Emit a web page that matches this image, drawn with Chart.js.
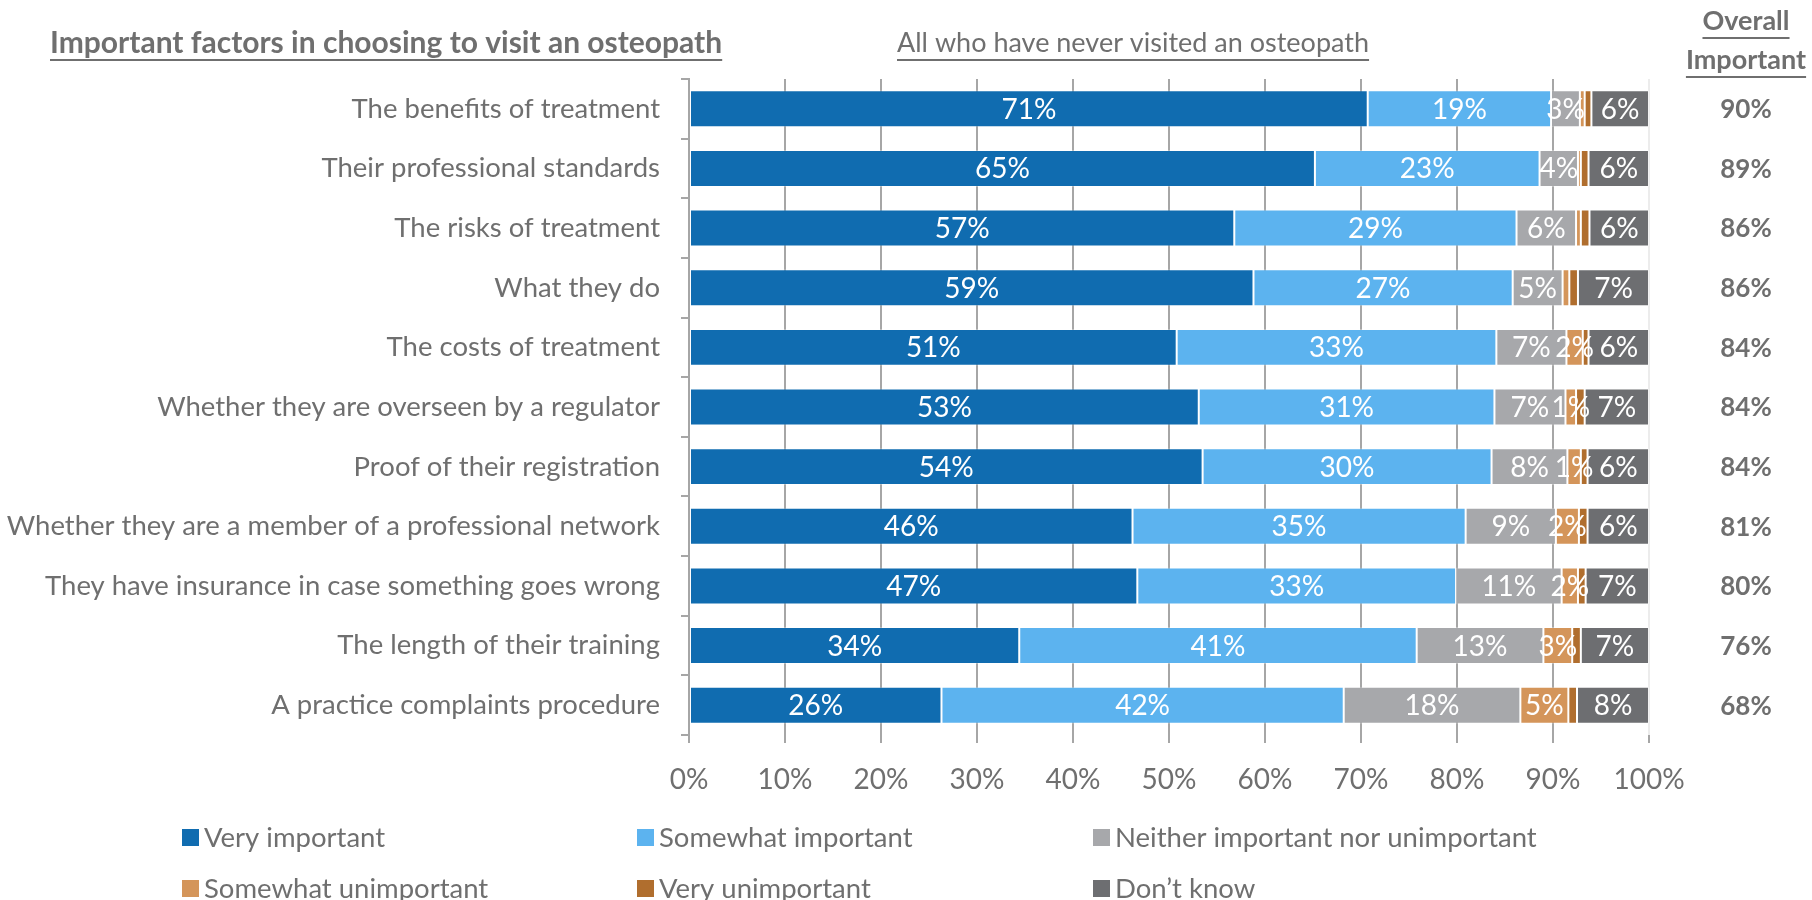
<!DOCTYPE html>
<html>
<head>
<meta charset="utf-8">
<script src="https://cdn.jsdelivr.net/npm/chart.js@4.4.1/dist/chart.umd.min.js"></script>
<style>
html,body{margin:0;padding:0;background:#ffffff;overflow:hidden}
#wrap{width:1812px;height:900px;position:relative}
</style>
</head>
<body>
<div id="wrap"><canvas id="c" width="1812" height="900"></canvas></div>
<script>
const categories = [
  "The benefits of treatment",
  "Their professional standards",
  "The risks of treatment",
  "What they do",
  "The costs of treatment",
  "Whether they are overseen by a regulator",
  "Proof of their registration",
  "Whether they are a member of a professional network",
  "They have insurance in case something goes wrong",
  "The length of their training",
  "A practice complaints procedure"
];
const seriesNames = ["Very important", "Somewhat important", "Neither important nor unimportant",
  "Somewhat unimportant", "Very unimportant", "Don\u2019t know"];
const veryImportant       = [70.7, 65.2, 56.8, 58.8, 50.8, 53.1, 53.5, 46.2, 46.7, 34.4, 26.3];
const somewhatImportant   = [19.1, 23.4, 29.4, 27.0, 33.3, 30.8, 30.1, 34.7, 33.2, 41.4, 41.9];
const neitherImportant    = [3.0, 4.0, 6.2, 5.2, 7.3, 7.4, 7.9, 9.4, 11.0, 13.2, 18.4];
const somewhatUnimportant = [0.5, 0.3, 0.5, 0.7, 1.7, 1.1, 1.4, 2.4, 1.7, 3.0, 5.0];
const veryUnimportant     = [0.7, 0.8, 0.9, 0.9, 0.6, 0.9, 0.7, 0.9, 0.8, 0.9, 0.9];
const dontKnow            = [6.0, 6.3, 6.2, 7.4, 6.3, 6.7, 6.4, 6.4, 6.6, 7.1, 7.5];
const overallImportant    = [90, 89, 86, 86, 84, 84, 84, 81, 80, 76, 68];
const xTickValues = [0, 10, 20, 30, 40, 50, 60, 70, 80, 90, 100];

const seriesValues = [veryImportant, somewhatImportant, neitherImportant, somewhatUnimportant, veryUnimportant, dontKnow];
const seriesColors = ["#106CB0", "#5CB3EF", "#A7A8AB", "#D4955A", "#B06E2E", "#6D6E71"];
const FONT = "Lato, 'Open Sans', sans-serif";
const TEXT = "#6f6f6f";
const GRID = "#a6a6a6";

const datasets = seriesValues.map((vals, i) => ({
  label: seriesNames[i],
  data: vals,
  backgroundColor: seriesColors[i],
  borderColor: "rgba(255,255,255,0.3)",
  borderWidth: 1,
  borderSkipped: false,
  barPercentage: 0.62,
  categoryPercentage: 1.0
}));

function underlineText(ctx, text, x, y, align) {
  ctx.textAlign = align;
  ctx.textBaseline = "middle";
  ctx.fillText(text, x, y);
  const w = ctx.measureText(text).width;
  const x0 = align === "center" ? x - w / 2 : x;
  ctx.fillRect(x0, y + 16, w, 2);
}

const extrasPlugin = {
  id: "extras",
  afterDatasetsDraw(chart) {
    const ctx = chart.ctx;
    ctx.save();
    // bar value labels
    ctx.font = "28px " + FONT;
    ctx.fillStyle = "#ffffff";
    ctx.textAlign = "center";
    ctx.textBaseline = "middle";
    chart.data.datasets.forEach((ds, i) => {
      const meta = chart.getDatasetMeta(i);
      meta.data.forEach((bar, j) => {
        const v = ds.data[j];
        if (v >= 1) {
          const p = bar.getCenterPoint();
          ctx.fillText(Math.round(v) + "%", p.x, p.y + 1);
        }
      });
    });
    // overall important column
    ctx.font = "bold 26px " + FONT;
    ctx.fillStyle = TEXT;
    const meta0 = chart.getDatasetMeta(0);
    meta0.data.forEach((bar, j) => {
      ctx.fillText(overallImportant[j] + "%", 1746, bar.getCenterPoint().y + 1);
    });
    ctx.restore();
  },
  afterDraw(chart) {
    const ctx = chart.ctx;
    ctx.save();
    ctx.fillStyle = TEXT;
    ctx.font = "bold 30px " + FONT;
    underlineText(ctx, "Important factors in choosing to visit an osteopath", 50, 43, "left");
    ctx.font = "27px " + FONT;
    underlineText(ctx, "All who have never visited an osteopath", 897, 43, "left");
    ctx.font = "bold 27px " + FONT;
    ctx.textAlign = "center";
    ctx.textBaseline = "middle";
    ctx.fillText("Overall", 1746, 21);
    const w1 = ctx.measureText("Overall").width;
    ctx.fillRect(1746 - w1 / 2, 37, w1, 2);
    underlineText(ctx, "Important", 1746, 60, "center");

    // legend
    const cols = [182, 637, 1093];
    const rows = [837, 888];
    ctx.font = "27.5px " + FONT;
    ctx.textAlign = "left";
    ctx.textBaseline = "middle";
    chart.data.datasets.forEach((ds, i) => {
      const x = cols[i % 3];
      const y = rows[Math.floor(i / 3)];
      ctx.fillStyle = ds.backgroundColor;
      ctx.fillRect(x, y - 8, 17, 17);
      ctx.fillStyle = TEXT;
      ctx.fillText(ds.label, x + 22, y + 1);
    });
    ctx.restore();
  }
};

function build() {
  new Chart(document.getElementById("c"), {
    type: "bar",
    data: { labels: categories, datasets: datasets },
    plugins: [extrasPlugin],
    options: {
      indexAxis: "y",
      responsive: false,
      animation: false,
      devicePixelRatio: 1,
      layout: { padding: { top: 79, right: 163, left: 0, bottom: 0 } },
      plugins: { legend: { display: false }, tooltip: { enabled: false } },
      scales: {
        x: {
          stacked: true,
          min: 0,
          max: 100,
          afterBuildTicks(scale) { scale.ticks = xTickValues.map(v => ({ value: v })); },
          ticks: {
            callback: v => v + "%",
            color: TEXT,
            font: { family: FONT, size: 28 },
            padding: 20
          },
          grid: {
            color: ctx => (ctx.tick && ctx.tick.value === 100) ? "#ececec" : GRID,
            tickColor: GRID,
            lineWidth: 2,
            tickLength: 8
          },
          border: { display: false },
          afterFit(scale) { scale.height = 165; }
        },
        y: {
          stacked: true,
          ticks: {
            color: TEXT,
            font: { family: FONT, size: 27.5 },
            padding: 21
          },
          grid: {
            drawOnChartArea: false,
            color: GRID,
            lineWidth: 2,
            tickLength: 8,
            offset: true
          },
          border: { display: true, color: GRID, width: 2 },
          afterFit(scale) { scale.width = 689; }
        }
      }
    }
  });
}

if (document.fonts && document.fonts.load) {
  Promise.all([
    document.fonts.load("27px Lato"),
    document.fonts.load("bold 27px Lato")
  ]).then(build, build);
} else {
  build();
}
</script>
</body>
</html>
